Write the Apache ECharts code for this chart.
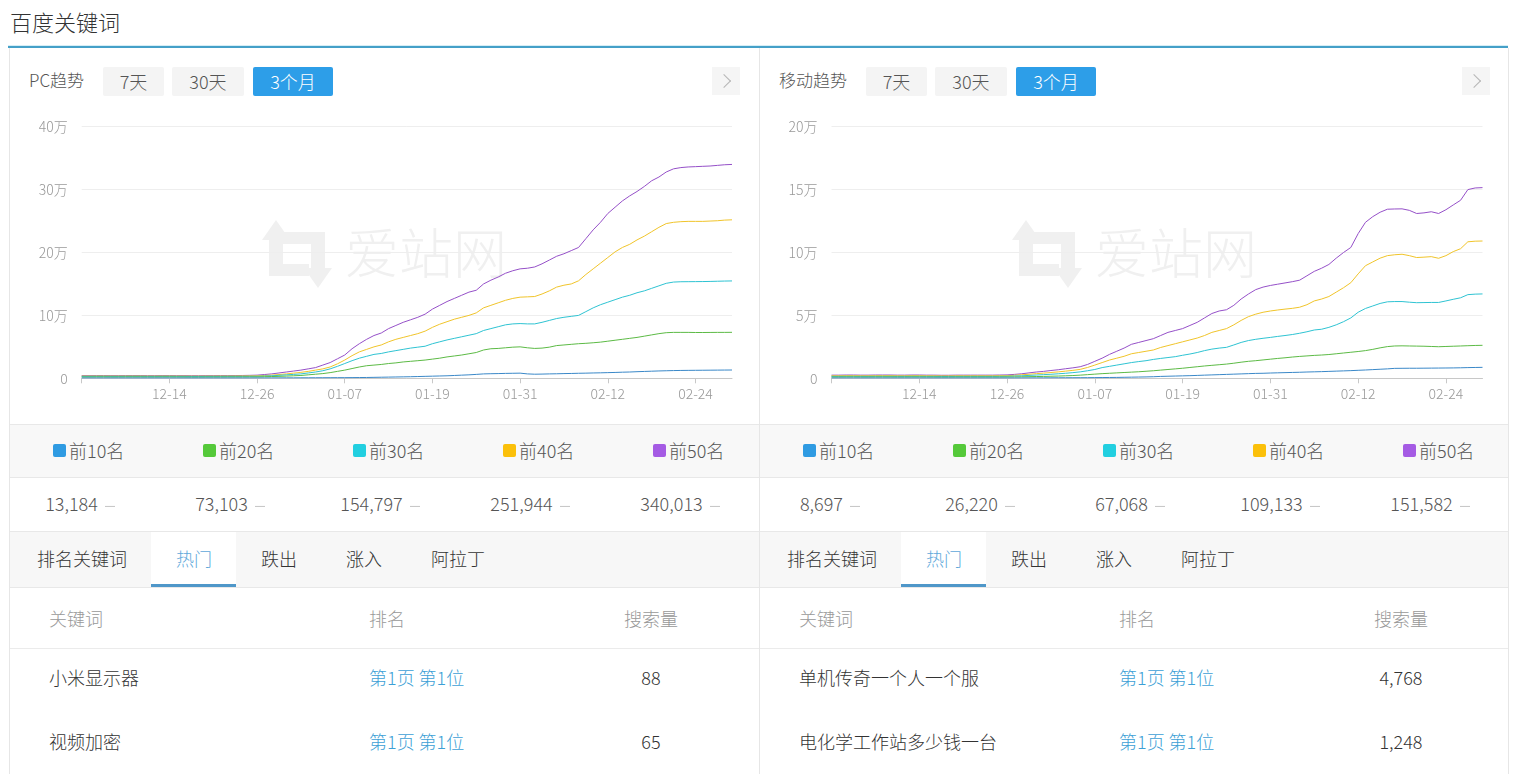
<!DOCTYPE html>
<html>
<head>
<meta charset="utf-8">
<script src="https://cdn.jsdelivr.net/npm/echarts/dist/echarts.min.js"></script>
<style>
  html, body { margin:0; padding:0; background:#fff; }
  body { width:1520px; height:774px; overflow:hidden; position:relative;
         font-family:"Noto Sans CJK SC","Noto Sans",sans-serif; font-weight:300; color:#333; }
  .a { position:absolute; white-space:nowrap; }
  .vc { line-height:1; transform:translateY(-56%); }
  .btn { position:absolute; top:67px; height:29px; line-height:28px; text-align:center;
         background:#f4f4f4; color:#555; font-size:18px; border-radius:2px; }
  .btn.on { background:#2d9ee8; color:#fff; }
  .chev { position:absolute; top:67px; width:28px; height:28px; background:#f5f5f5; }
  .chev:after { content:""; position:absolute; left:7px; top:9px; width:9px; height:9px;
         border-top:1px solid #b5b5b5; border-right:1px solid #b5b5b5; transform:rotate(45deg); }
  .chart { position:absolute; top:100px; height:324px; }
  .dash { display:inline-block; width:10px; height:1px; background:#c4c4c4; vertical-align:middle; margin-left:7px; }
</style>
</head>
<body>
<div id="page"></div>
<div id="pcChart" class="chart" style="left:10px;width:749px;"></div>
<div id="mChart" class="chart" style="left:760px;width:748px;"></div>
<script>
// ---------------- data ----------------
const dates = ["12-02","12-03","12-04","12-05","12-06","12-07","12-08","12-09","12-10","12-11","12-12","12-13","12-14","12-15","12-16","12-17","12-18","12-19","12-20","12-21","12-22","12-23","12-24","12-25","12-26","12-27","12-28","12-29","12-30","12-31",
"01-01","01-02","01-03","01-04","01-05","01-06","01-07","01-08","01-09","01-10","01-11","01-12","01-13","01-14","01-15","01-16","01-17","01-18","01-19","01-20","01-21","01-22","01-23","01-24","01-25","01-26","01-27","01-28","01-29","01-30","01-31",
"02-01","02-02","02-03","02-04","02-05","02-06","02-07","02-08","02-09","02-10","02-11","02-12","02-13","02-14","02-15","02-16","02-17","02-18","02-19","02-20","02-21","02-22","02-23","02-24","02-25","02-26","02-27","02-28","02-29"];

const seriesNames = ["前10名","前20名","前30名","前40名","前50名"];

// PC trend
const pcTop10 = [600,600,600,600,600,600,600,600,600,600,600,600,600,600,600,600,600,600,600,600,600,600,600,600,650,650,700,700,750,750,800,800,850,900,950,1000,
1000,1100,1200,1300,1500,1700,1900,2100,2300,2500,2800,3100,3400,3700,4000,4500,5000,5500,6200,7000,7300,7500,7800,8000,8200,7000,6500,6700,7000,7200,7500,7700,8000,8200,8500,8700,9000,9300,9700,10000,10500,10900,11300,11700,12000,12300,12500,12600,12700,12800,12900,13000,13100,13184];
const pcTop20 = [2000,2000,2100,2100,2000,2000,2100,2100,2100,2000,2000,2100,2100,2000,2000,1900,1900,2000,2000,2000,2100,2100,2100,2200,
2200,2500,2800,3100,3500,4000,4500,5500,6500,7500,9000,11000,13000,15500,18000,20000,21000,22000,23500,24500,26000,27000,28000,29000,30500,32000,34000,35500,37000,39000,41000,45000,47000,47500,48500,49500,50000,48500,47500,48000,49500,52000,53000,54000,55000,55600,56500,57500,59000,60500,62000,63500,65000,67000,69000,71000,72500,73000,73000,73000,72800,72800,72900,73000,73000,73103];
const pcTop30 = [3000,3000,3100,3100,3000,3000,3100,3100,3100,3000,3000,3100,3100,3000,3000,2900,2900,3000,3000,3000,3100,3100,3100,3200,
3200,3600,4000,4700,5500,6200,7000,8500,10000,12000,15000,19000,23500,28000,32000,35000,38000,39500,42000,44000,46000,48000,49500,51000,55000,58000,61000,63500,66000,68500,71000,76000,79000,82000,85000,86500,87000,86500,86500,89000,92000,95000,97000,98500,100000,106000,112000,117000,121000,125000,129000,132000,136000,139000,143000,147000,151000,153000,153500,153600,153700,153800,154000,154300,154600,154797];
const pcTop40 = [3500,3500,3600,3600,3500,3500,3600,3600,3600,3500,3500,3600,3600,3500,3500,3400,3400,3500,3500,3600,3600,3700,3800,3900,
4000,4500,5000,6000,7000,8200,9500,11000,13000,15000,18000,23000,29000,36000,42000,46000,50000,53000,58000,62000,65000,68000,71000,75000,81000,86000,90000,94000,97000,100000,104000,112000,116000,120000,124000,127000,129000,129500,130000,134000,139000,145000,148000,150000,155000,165000,174000,183000,192000,201000,208000,213000,220000,226000,233000,240000,246000,248000,249000,249500,249500,249500,250000,250500,251500,251944];
const pcTop50 = [4200,4200,4300,4300,4200,4200,4300,4300,4300,4200,4200,4300,4300,4200,4200,4100,4100,4200,4200,4300,4300,4400,4500,4700,
5000,6000,7000,8500,10000,11500,13000,15000,17000,21000,25000,31000,37000,47000,55000,62000,68000,72000,79000,84000,89000,93000,97000,102000,110000,116000,122000,127000,132000,137000,140000,150000,156000,161000,167000,171000,174000,175000,177000,182000,188000,194000,198000,203000,208000,222000,236000,248000,262000,272000,282000,290000,297000,305000,314000,320000,328000,333000,335000,336000,336500,337000,337500,338500,339500,340013];

// Mobile trend
const mTop10 = [300,300,300,300,300,300,300,300,300,300,300,300,300,300,300,300,300,300,300,300,300,300,300,300,300,300,320,340,360,380,400,420,440,460,480,500,
550,600,650,700,800,900,1000,1100,1250,1500,1650,1800,1950,2100,2300,2500,2700,2900,3100,3300,3500,3700,3900,4000,4200,4350,4500,4650,4800,5000,5150,5300,5500,5700,5900,6100,6350,6600,6900,7200,7500,7900,7950,8000,8000,8050,8100,8150,8200,8250,8350,8500,8600,8697];
const mTop20 = [1000,1000,1050,1050,1000,1000,1050,1050,1050,1000,1000,1050,1050,1000,1000,950,950,1000,1000,1000,1000,1000,1000,1000,
1050,1100,1200,1300,1400,1500,1650,1800,2000,2200,2500,2900,3300,3700,4000,4300,4600,4900,5200,5600,6000,6500,7000,7500,8000,8600,9200,9800,10300,10800,11300,12000,12800,13500,14000,14600,15200,15800,16300,16900,17400,17800,18200,18500,18900,19500,20100,20700,21300,22000,23000,24200,25200,25700,25800,25700,25600,25500,25300,25100,25300,25500,25700,25900,26100,26220];
const mTop30 = [1500,1500,1550,1550,1500,1500,1550,1550,1550,1500,1500,1550,1550,1500,1500,1450,1450,1500,1500,1500,1500,1500,1500,1550,
1600,1800,2000,2300,2600,2900,3200,3600,4000,4500,5100,6000,7000,8500,9500,10500,11500,12500,13300,14000,15000,15800,16500,17200,18300,19300,20500,22000,23200,24000,24600,26500,28500,30000,31000,31800,32500,33300,34000,34800,35800,37000,38400,39000,40500,42500,45000,48000,52500,55500,57500,59500,60800,61000,61000,60500,60100,60200,60300,60300,61500,62800,64000,66500,66900,67068];
const mTop40 = [2000,2000,2100,2100,2000,2000,2100,2100,2100,2000,2000,2100,2100,2000,2000,1900,1900,2000,2000,2000,2000,2000,2000,2100,
2100,2400,2800,3200,3700,4100,4600,5100,5700,6300,7100,8600,10500,12500,14500,16000,17500,19500,20500,21500,22500,24500,26000,27500,29000,30500,32000,34000,36500,38000,39500,42500,46000,49000,51000,52500,53500,54300,55000,55600,56500,58500,61500,63000,65000,68500,72000,76000,83000,89500,92500,95500,97500,98200,98600,97500,96000,96300,96700,95400,97500,100700,103000,108500,109000,109133];
const mTop50 = [2500,2500,2600,2600,2500,2500,2600,2600,2600,2500,2500,2600,2600,2500,2500,2400,2400,2500,2500,2500,2500,2500,2500,2600,
2700,3100,3600,4300,5000,5500,6200,6800,7600,8300,9200,11000,13500,16000,19000,21500,24000,27000,28500,30000,31500,34000,36500,38000,39500,42000,44500,48000,51500,53500,54500,58000,63000,67000,70500,72500,73800,74800,75800,76800,78000,81500,85000,87500,90500,95500,100000,104000,115000,124000,128500,132000,134400,134600,134700,133500,131000,131500,132400,131000,134000,137800,141500,150000,151300,151582];

// Summary values (latest)
const pcLatest = ["13,184","73,103","154,797","251,944","340,013"];
const mLatest  = ["8,697","26,220","67,068","109,133","151,582"];

// Axis tick labels
const pcYTicks = [0,100000,200000,300000,400000];
const mYTicks  = [0,50000,100000,150000,200000];

// Page texts
const pageTitle = "百度关键词";
const panelTitles = ["PC趋势","移动趋势"];
const rangeButtons = ["7天","30天","3个月"];
const listTabs = ["排名关键词","热门","跌出","涨入","阿拉丁"];
const tableHeader = ["关键词","排名","搜索量"];
const pcRows = [["小米显示器","第1页 第1位","88"],["视频加密","第1页 第1位","65"]];
const mRows  = [["单机传奇一个人一个服","第1页 第1位","4,768"],["电化学工作站多少钱一台","第1页 第1位","1,248"]];

// ---------------- styles ----------------
const legendColors = ["#2f9be2","#55c93a","#22cfe0","#fbc00a","#a55be4"];
const lineColors   = ["#3a88c8","#5cba45","#2ec3d2","#f0c42a","#9550c8"];

// ---------------- page layout ----------------
const page = document.getElementById('page');
function el(tag, cls, style, text) {
  const e = document.createElement(tag);
  if (cls) e.className = cls;
  if (style) e.style.cssText = style;
  if (text !== undefined) e.textContent = text;
  page.appendChild(e);
  return e;
}

el('div','a vc','left:10px;top:22px;font-size:22px;color:#333;', pageTitle);
el('div','a','left:8px;top:46px;width:1500px;height:2px;background:#45a0c8;');
el('div','a','left:8px;top:45px;width:1500px;height:1px;background:#d6eef6;');

// panel frames & rows
el('div','a','left:9px;top:48px;width:1px;height:726px;background:#e6e6e6;');
el('div','a','left:759px;top:48px;width:1px;height:726px;background:#e6e6e6;');
el('div','a','left:1508px;top:48px;width:1px;height:726px;background:#e6e6e6;');
// legend row
el('div','a','left:10px;top:424px;width:1498px;height:53px;background:#f8f8f8;');
el('div','a','left:10px;top:424px;width:1498px;height:1px;background:#e8e8e8;');
el('div','a','left:10px;top:477px;width:1498px;height:1px;background:#e8e8e8;');
el('div','a','left:10px;top:531px;width:1498px;height:1px;background:#e8e8e8;');
// tab row
el('div','a','left:10px;top:532px;width:1498px;height:55px;background:#f7f7f7;');
el('div','a','left:10px;top:587px;width:1498px;height:1px;background:#e8e8e8;');
el('div','a','left:10px;top:648px;width:1498px;height:1px;background:#ebebeb;');
// keep the divider on top
el('div','a','left:759px;top:424px;width:1px;height:350px;background:#e6e6e6;');

function buildPanel(ox, title, latest, rows, btnShift) {
  el('div','a vc','left:'+(29+ox)+'px;top:81px;font-size:17px;color:#555;', title);
  const bx = [103,172,253], bw = [61,72,80];
  rangeButtons.forEach((t,i)=>{
    el('div','btn'+(i===2?' on':''),'left:'+(bx[i]+ox+btnShift)+'px;width:'+bw[i]+'px;', t);
  });
  el('div','chev','left:'+(712+ox)+'px;');
  // legend
  seriesNames.forEach((n,i)=>{
    const lx = 53 + 150*i + ox;
    el('div','a','left:'+lx+'px;top:444px;width:13px;height:13px;border-radius:2px;background:'+legendColors[i]+';');
    el('div','a vc','left:'+(lx+16)+'px;top:451px;font-size:18px;color:#555;', n);
  });
  // latest values
  latest.forEach((v,i)=>{
    const cx = 80 + 150*i + ox;
    const d = el('div','a vc','left:'+(cx-75)+'px;width:150px;text-align:center;top:504px;font-size:18px;color:#555;');
    d.innerHTML = v + '<span class="dash"></span>';
  });
  // tabs
  el('div','a','left:'+(151+ox)+'px;top:532px;width:85px;height:55px;background:#fff;');
  el('div','a','left:'+(151+ox)+'px;top:584px;width:85px;height:3px;background:#4f97c9;');
  const tx = [37,176,261,346,431];
  listTabs.forEach((t,i)=>{
    el('div','a vc','left:'+(tx[i]+ox)+'px;top:559px;font-size:18px;color:'+(i===1?'#5ea8da':'#333')+';', t);
  });
  // table
  el('div','a vc','left:'+(49+ox)+'px;top:619px;font-size:18px;color:#999;', tableHeader[0]);
  el('div','a vc','left:'+(369+ox)+'px;top:619px;font-size:18px;color:#999;', tableHeader[1]);
  el('div','a vc','left:'+(591+ox)+'px;width:120px;text-align:center;top:619px;font-size:18px;color:#999;', tableHeader[2]);
  rows.forEach((r,j)=>{
    const y = 678 + 64*j;
    el('div','a vc','left:'+(49+ox)+'px;top:'+y+'px;font-size:18px;color:#333;', r[0]);
    el('div','a vc','left:'+(369+ox)+'px;top:'+y+'px;font-size:18px;color:#3d9fd6;', r[1]);
    el('div','a vc','left:'+(591+ox)+'px;width:120px;text-align:center;top:'+y+'px;font-size:18px;color:#333;', r[2]);
  });
}
buildPanel(0, panelTitles[0], pcLatest, pcRows, 0);
buildPanel(750, panelTitles[1], mLatest, mRows, 13);

// ---------------- charts ----------------
function wanLabel(v) { return v === 0 ? '0' : (v/10000) + '万'; }

function watermark() {
  const c = '#f0f0f0';
  return [
    { type:'group', left:252, top:120, silent:true, z:-1, children:[
      { type:'polygon', shape:{points:[[0,22],[14,2],[28,22]]}, style:{fill:c} },
      { type:'rect', shape:{x:7,y:20,width:14,height:38}, style:{fill:c} },
      { type:'rect', shape:{x:7,y:46,width:40,height:12}, style:{fill:c} },
      { type:'rect', shape:{x:21,y:14,width:42,height:12}, style:{fill:c} },
      { type:'rect', shape:{x:49,y:14,width:14,height:38}, style:{fill:c} },
      { type:'polygon', shape:{points:[[42,50],[70,50],[56,70]]}, style:{fill:c} }
    ]},
    { type:'text', left:335, top:126, silent:true, z:-1,
      style:{ text:'爱站网', fill:c, font:'300 54px "Noto Sans CJK SC", sans-serif' } }
  ];
}

function makeOption(data, yTicks, gridLeft, gridRight) {
  const step = yTicks[1] - yTicks[0];
  return {
    animation:false,
    graphic: watermark(),
    grid:{ left:gridLeft, right:gridRight, top:26.7, bottom:45.7 },
    xAxis:{
      type:'category', data:dates, boundaryGap:false,
      axisLine:{ lineStyle:{ color:'#c8c8c8' } },
      axisTick:{ interval:(i)=> i % 12 === 0, length:5, lineStyle:{ color:'#c8c8c8' } },
      axisLabel:{ interval:(i)=> i > 0 && i % 12 === 0, color:'#999', fontSize:14, margin:8,
                  fontFamily:'"Noto Sans CJK SC", sans-serif', fontWeight:300 },
      splitLine:{ show:false }
    },
    yAxis:{
      type:'value', min:yTicks[0], max:yTicks[yTicks.length-1], interval:step,
      axisLine:{ show:false }, axisTick:{ show:false },
      axisLabel:{ formatter:wanLabel, color:'#999', fontSize:14, margin:14,
                  fontFamily:'"Noto Sans CJK SC", sans-serif', fontWeight:300 },
      splitLine:{ lineStyle:{ color:'#eeeeee' } }
    },
    series: data.map((d,i)=>({
      name: seriesNames[i], type:'line', data:d, symbol:'none', showSymbol:false,
      lineStyle:{ width:1, color:lineColors[i] }, itemStyle:{ color:lineColors[i] }, z:10-i
    }))
  };
}

const pc = echarts.init(document.getElementById('pcChart'), null, {renderer:'canvas'});
pc.setOption(makeOption([pcTop10,pcTop20,pcTop30,pcTop40,pcTop50], pcYTicks, 71.7, 27));
const mc = echarts.init(document.getElementById('mChart'), null, {renderer:'canvas'});
mc.setOption(makeOption([mTop10,mTop20,mTop30,mTop40,mTop50], mYTicks, 71.5, 25.5));
</script>
</body>
</html>
